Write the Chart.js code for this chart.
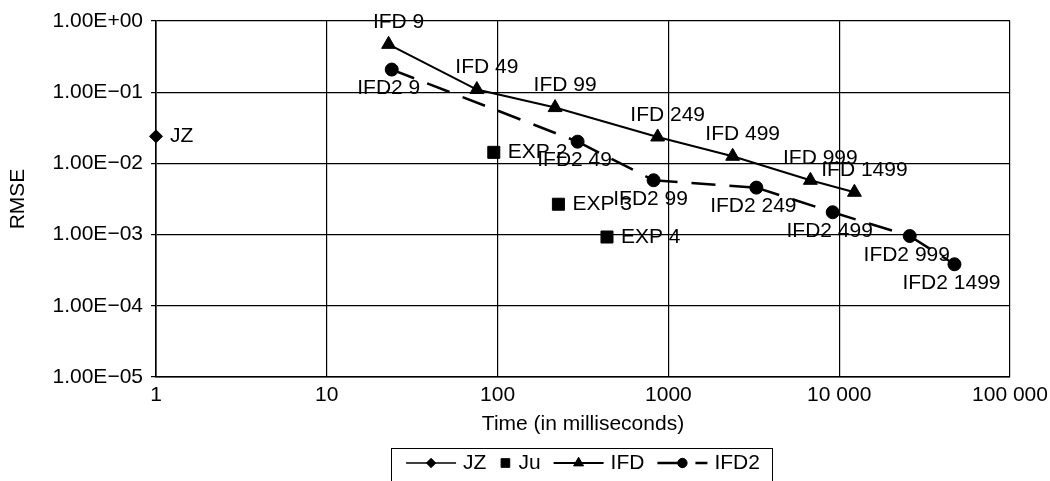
<!DOCTYPE html>
<html>
<head>
<meta charset="utf-8">
<script src="https://cdn.jsdelivr.net/npm/chart.js@4.4.1/dist/chart.umd.min.js"></script>
<style>
  html, body { margin: 0; padding: 0; background: #fff; }
  #wrap { width: 1050px; height: 481px; }
</style>
</head>
<body>
<div id="wrap"><canvas id="chart"></canvas></div>
<script>
// AXIS TICKS
const xTickValues = [1, 10, 100, 1000, 10000, 100000];
const xTickLabels = ['1', '10', '100', '1000', '10 000', '100 000'];
const yTickValues = [1e-5, 1e-4, 1e-3, 1e-2, 1e-1, 1];
const yTickLabels = ['1.00E\u221205', '1.00E\u221204', '1.00E\u221203', '1.00E\u221202', '1.00E\u221201', '1.00E+00'];

// SERIES (time in ms, RMSE)
const jzTime = [1];
const jzRmse = [0.024];
const jzLabels = ['JZ'];

const juTime = [95, 227, 437];
const juRmse = [0.0143, 0.00267, 0.000925];
const juLabels = ['EXP 2', 'EXP 3', 'EXP 4'];

const ifdTime = [23, 75.6, 217, 865, 2378, 6780, 12280];
const ifdRmse = [0.47, 0.109, 0.0608, 0.0235, 0.0126, 0.00579, 0.00393];
const ifdLabels = ['IFD 9', 'IFD 49', 'IFD 99', 'IFD 249', 'IFD 499', 'IFD 999', 'IFD 1499'];

const ifd2Time = [24, 294, 819, 3273, 9160, 25880, 47300];
const ifd2Rmse = [0.208, 0.0202, 0.0058, 0.00457, 0.00206, 0.000955, 0.000383];
const ifd2Labels = ['IFD2 9', 'IFD2 49', 'IFD2 99', 'IFD2 249', 'IFD2 499', 'IFD2 999', 'IFD2 1499'];

const FONT = '"Liberation Sans", Arial, Helvetica, sans-serif';
const FSIZE = 21;

function pts(xs, ys) {
    return xs.map((x, i) => ({ x: x, y: ys[i] }));
}

// point labels next to every marker
const pointLabels = {
    id: 'pointLabels',
    afterDatasetsDraw(chart) {
        const ctx = chart.ctx;
        ctx.save();
        ctx.font = FSIZE + 'px ' + FONT;
        ctx.fillStyle = '#000';
        ctx.textBaseline = 'middle';
        chart.data.datasets.forEach((ds, di) => {
            if (!ds.pointText) return;
            const meta = chart.getDatasetMeta(di);
            ctx.textAlign = ds.textAlign;
            meta.data.forEach((el, i) => {
                ctx.fillText(ds.pointText[i], el.x + ds.textDx, el.y + ds.textDy);
            });
        });
        ctx.restore();
    }
};

// boxed legend under the axis title
const boxLegend = {
    id: 'boxLegend',
    afterDraw(chart) {
        const ctx = chart.ctx;
        const area = chart.chartArea;
        const cy = 463;
        ctx.save();
        ctx.font = FSIZE + 'px ' + FONT;
        const items = chart.data.datasets.map(ds => {
            const sample = ds.legendLine ? 50 : 12;
            const tw = ctx.measureText(ds.label).width;
            return { ds, sample, tw, w: sample + 7 + tw };
        });
        const gap = 13;
        let total = items.reduce((s, it) => s + it.w, 0) + gap * (items.length - 1);
        let x = (area.left + area.right) / 2 - total / 2;
        const boxL = x - 15, boxR = x + total + 12;

        ctx.strokeStyle = '#000';
        ctx.lineWidth = 1;
        ctx.strokeRect(Math.round(boxL) + 0.5, 448.5, Math.round(boxR - boxL), 60);

        items.forEach(it => {
            const ds = it.ds;
            ctx.strokeStyle = '#000';
            ctx.fillStyle = '#000';
            if (ds.legendLine) {
                ctx.save();
                ctx.lineWidth = ds.borderWidth;
                ctx.setLineDash(ds.borderDash || []);
                ctx.beginPath();
                ctx.moveTo(x, cy);
                ctx.lineTo(x + it.sample, cy);
                ctx.stroke();
                ctx.restore();
            }
            Chart.helpers.drawPoint(ctx, {
                pointStyle: ds.pointStyle,
                radius: ds.pointRadius * 0.72,
                rotation: 0,
                borderWidth: 1
            }, x + it.sample / 2, cy);
            ctx.fillStyle = '#000';
            ctx.textAlign = 'left';
            ctx.textBaseline = 'middle';
            ctx.fillText(ds.label, x + it.sample + 7, cy);
            x += it.w + gap;
        });
        ctx.restore();
    }
};

Chart.defaults.font.family = FONT;
Chart.defaults.font.size = FSIZE;
Chart.defaults.color = '#000';

new Chart(document.getElementById('chart'), {
    type: 'scatter',
    data: {
        datasets: [
            {
                label: 'JZ',
                data: pts(jzTime, jzRmse),
                pointText: jzLabels,
                textAlign: 'left', textDx: 14, textDy: 0,
                showLine: true, legendLine: true, clip: false,
                borderColor: '#000', backgroundColor: '#000', borderWidth: 1.5,
                pointStyle: 'rectRot', pointRadius: 6.5, pointBorderWidth: 1
            },
            {
                label: 'Ju',
                data: pts(juTime, juRmse),
                pointText: juLabels,
                textAlign: 'left', textDx: 14, textDy: 0,
                showLine: false, legendLine: false, clip: false,
                borderColor: '#000', backgroundColor: '#000', borderWidth: 1,
                pointStyle: 'rect', pointRadius: 8.5, pointBorderWidth: 1
            },
            {
                label: 'IFD',
                data: pts(ifdTime, ifdRmse),
                pointText: ifdLabels,
                textAlign: 'center', textDx: 10, textDy: -22,
                showLine: true, legendLine: true, clip: false,
                borderColor: '#000', backgroundColor: '#000', borderWidth: 2,
                pointStyle: 'triangle', pointRadius: 8, pointBorderWidth: 1
            },
            {
                label: 'IFD2',
                data: pts(ifd2Time, ifd2Rmse),
                pointText: ifd2Labels,
                textAlign: 'center', textDx: -3, textDy: 19,
                showLine: true, legendLine: true, clip: false,
                borderColor: '#000', backgroundColor: '#000', borderWidth: 2.5,
                borderDash: [24, 14],
                // restart the dash pattern at every point, like the original plot
                segment: { borderDashOffset: c => c.p0DataIndex * 0.0001 },
                pointStyle: 'circle', pointRadius: 6.5, pointBorderWidth: 1
            }
        ]
    },
    options: {
        responsive: true,
        maintainAspectRatio: false,
        animation: false,
        layout: { padding: { top: 21, right: 40, left: 0, bottom: 0 } },
        plugins: {
            legend: { display: false },
            tooltip: { enabled: false }
        },
        scales: {
            x: {
                type: 'logarithmic',
                position: 'bottom',
                min: 1,
                max: 100000,
                afterBuildTicks: s => { s.ticks = xTickValues.map(v => ({ value: v })); },
                afterFit: s => { s.height = 104; s.paddingLeft = 0; s.paddingRight = 0; },
                ticks: {
                    autoSkip: false, maxRotation: 0, padding: 6,
                    callback: (v, i) => xTickLabels[i]
                },
                grid: { color: '#000', lineWidth: 1.2, drawTicks: false },
                border: { color: '#000', width: 1.6 },
                title: {
                    display: true,
                    text: 'Time (in milliseconds)',
                    padding: { top: 4, bottom: 44 }
                }
            },
            y: {
                type: 'logarithmic',
                min: 1e-5,
                max: 1,
                afterBuildTicks: s => { s.ticks = yTickValues.map(v => ({ value: v })); },
                afterFit: s => { s.width = 156; s.paddingTop = 0; s.paddingBottom = 0; },
                ticks: {
                    autoSkip: false, padding: 8,
                    callback: (v, i) => yTickLabels[i]
                },
                grid: { color: '#000', lineWidth: 1.2, drawTicks: true, tickLength: 5 },
                border: { color: '#000', width: 1.6 },
                title: {
                    display: true,
                    text: 'RMSE',
                    padding: { top: 6, bottom: 0 }
                }
            }
        }
    },
    plugins: [pointLabels, boxLegend]
});
</script>
</body>
</html>
